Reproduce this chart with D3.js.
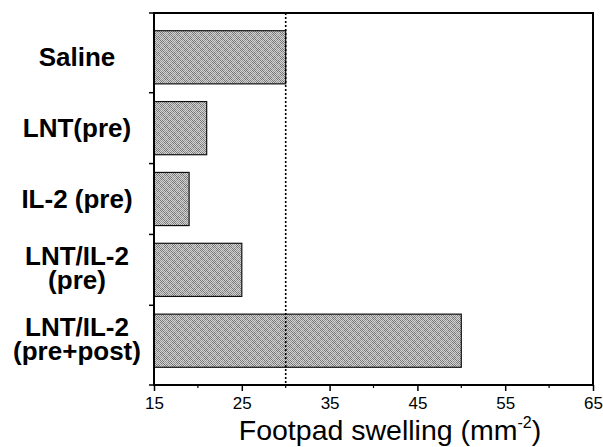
<!DOCTYPE html>
<html lang="en">
<head>
    <meta charset="UTF-8">
    <script src="https://d3js.org/d3.v7.min.js"></script>
    <style>
        body {
            margin: 0;
            background-color: #ffffff;
            overflow: hidden;
        }
        svg {
            display: block;
            font-family: 'Liberation Sans', Arial, sans-serif;
        }
    </style>
</head>
<body>
    <svg id="chart" width="603" height="447"></svg>

    <script>
        // Data
        const groups = ["Saline", "LNT(pre)", "IL-2 (pre)", "LNT/IL-2 (pre)", "LNT/IL-2 (pre+post)"];
        const groupLines = [["Saline"], ["LNT(pre)"], ["IL-2 (pre)"], ["LNT/IL-2", "(pre)"], ["LNT/IL-2", "(pre+post)"]];
        const swelling = [30, 21, 19, 25, 50];
        const majorTicks = [15, 25, 35, 45, 55, 65];
        const minorTicks = [20, 30, 40, 50, 60];
        const referenceValue = 30;

        const width = 603, height = 447;
        const margin = { top: 13, right: 10, bottom: 62, left: 154 };

        const svg = d3.select("#chart");

        // stippled grey fill like the printed halftone
        const defs = svg.append("defs");
        const pat = defs.append("pattern")
            .attr("id", "stipple")
            .attr("width", 8).attr("height", 8)
            .attr("patternUnits", "userSpaceOnUse");
        pat.append("rect").attr("width", 8).attr("height", 8).attr("fill", "#d2d2d2");
        for (let py = 0; py < 8; py++) {
            for (let px = (py % 2); px < 8; px += 2) {
                const dark = (px < 4) === (py < 4);
                pat.append("rect")
                    .attr("x", px).attr("y", py)
                    .attr("width", 1).attr("height", 1)
                    .attr("fill", dark ? "#747474" : "#949494");
            }
        }

        const x = d3.scaleLinear()
            .domain([15, 65])
            .range([margin.left, width - margin.right]);

        const y = d3.scaleBand()
            .domain(groups)
            .range([margin.top, height - margin.bottom])
            .padding(0.25);

        // bars
        svg.selectAll(".bar")
            .data(groups)
            .enter()
            .append("rect")
            .attr("class", "bar")
            .attr("x", x(15))
            .attr("y", d => y(d))
            .attr("width", (d, i) => x(swelling[i]) - x(15))
            .attr("height", y.bandwidth())
            .attr("fill", "url(#stipple)")
            .attr("stroke", "#111")
            .attr("stroke-width", 1.2);

        // dotted reference line at saline level
        svg.append("line")
            .attr("x1", x(referenceValue)).attr("x2", x(referenceValue))
            .attr("y1", margin.top).attr("y2", height - margin.bottom)
            .attr("stroke", "#000")
            .attr("stroke-width", 1.6)
            .attr("stroke-dasharray", "2,2");

        // frame
        const x0 = x(15), x1 = x(65);
        const yTop = margin.top, yBot = height - margin.bottom;
        svg.append("path")
            .attr("d", `M${x0},${yTop}H${x1}V${yBot}H${x0}Z`)
            .attr("fill", "none")
            .attr("stroke", "#000")
            .attr("stroke-width", 2);

        // x axis ticks
        const xAxis = d3.axisBottom(x)
            .tickValues(majorTicks)
            .tickSize(6)
            .tickFormat(d3.format("d"));
        const gx = svg.append("g")
            .attr("transform", `translate(0,${yBot})`)
            .call(xAxis)
            .attr("font-family", null)
            .attr("font-size", 17);
        gx.select(".domain").remove();
        gx.selectAll(".tick line").attr("stroke", "#000").attr("stroke-width", 1.5);
        gx.selectAll(".tick text")
            .attr("fill", "#000")
            .attr("font-size", 17)
            .attr("y", 24)
            .attr("dy", 0);

        svg.append("g")
            .selectAll("line")
            .data(minorTicks)
            .enter()
            .append("line")
            .attr("x1", d => x(d)).attr("x2", d => x(d))
            .attr("y1", yBot).attr("y2", yBot + 3)
            .attr("stroke", "#000")
            .attr("stroke-width", 1.2);

        // y ticks at group boundaries
        const bounds = [yTop].concat(groups.slice(1).map(g => y(g) - y.step() * y.paddingInner() / 2), [yBot]);
        svg.append("g")
            .selectAll("line")
            .data(bounds)
            .enter()
            .append("line")
            .attr("x1", x0 - 5).attr("x2", x0)
            .attr("y1", d => d).attr("y2", d => d)
            .attr("stroke", "#000")
            .attr("stroke-width", 1.5);

        // category labels
        const labelX = 77;
        groupLines.forEach((lines, i) => {
            const c = y(groups[i]) + y.bandwidth() / 2;
            lines.forEach((ln, j) => {
                svg.append("text")
                    .attr("font-size", 26)
                    .attr("font-weight", 700)
                    .attr("text-anchor", "middle")
                    .attr("x", labelX)
                    .attr("y", lines.length === 1 ? c + 9 : c - 5 + j * 24)
                    .text(ln);
            });
        });

        // axis title
        const title = svg.append("text")
            .attr("font-size", 28.5)
            .attr("text-anchor", "middle")
            .attr("x", 390)
            .attr("y", 440);
        title.append("tspan").text("Footpad swelling (mm");
        title.append("tspan")
            .attr("font-size", 16)
            .attr("dy", -12)
            .text("-2");
        title.append("tspan")
            .attr("dy", 12)
            .text(")");
    </script>
</body>
</html>
